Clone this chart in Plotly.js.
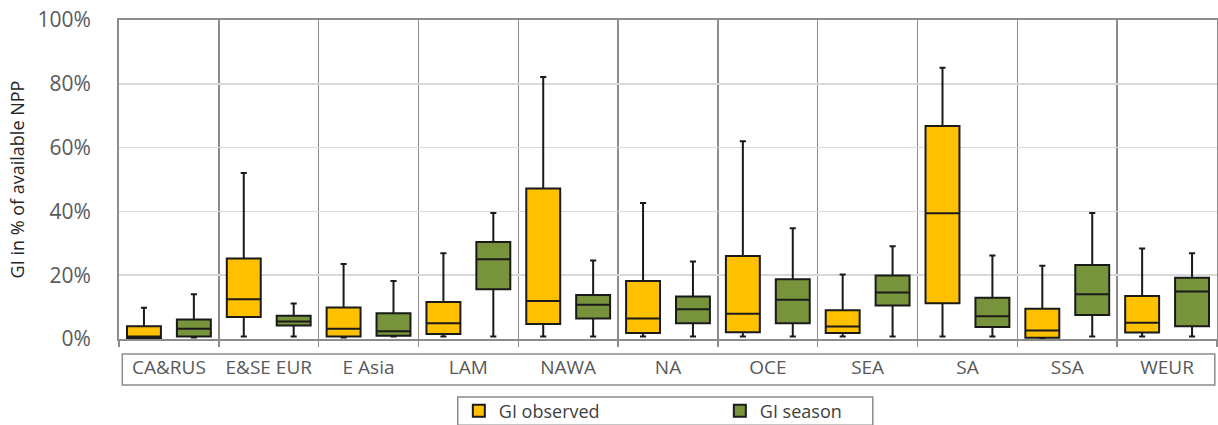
<!DOCTYPE html>
<html>
<head>
<meta charset="utf-8">
<script src="https://cdn.plot.ly/plotly-3.0.1.min.js"></script>
<style>html,body{margin:0;padding:0;background:#fff;}#chart{width:1218px;height:425px;}</style>
</head>
<body>
<div id="chart"></div>
<script>
const categories = ["CA&RUS", "E&SE EUR", "E Asia", "LAM", "NAWA", "NA", "OCE", "SEA", "SA", "SSA", "WEUR"];

// GI observed (% of available NPP)
const obsMin    = [0.1, 0.8, 0.5, 0.8, 0.8, 0.8, 0.8, 0.8, 0.8, 0.3, 0.8];
const obsQ1     = [0.3, 6.9, 0.8, 1.6, 4.7, 1.9, 2.1, 1.9, 11.2, 0.4, 2.0];
const obsMedian = [0.8, 12.5, 3.2, 4.9, 11.9, 6.4, 7.9, 3.9, 39.4, 2.7, 5.1];
const obsQ3     = [4.0, 25.2, 9.9, 11.6, 47.2, 18.2, 26.0, 9.0, 66.8, 9.5, 13.5];
const obsMax    = [9.8, 52.0, 23.5, 26.9, 82.1, 42.6, 62.0, 20.2, 85.0, 23.0, 28.4];

// GI season (% of available NPP)
const seaMin    = [0.5, 0.8, 0.8, 0.8, 0.8, 0.8, 0.8, 0.8, 0.8, 0.8, 0.8];
const seaQ1     = [0.8, 4.2, 1.0, 15.6, 6.4, 4.9, 4.9, 10.5, 3.8, 7.5, 4.0];
const seaMedian = [3.2, 5.5, 2.4, 25.0, 10.7, 9.3, 12.3, 14.6, 7.1, 14.0, 14.9];
const seaQ3     = [6.1, 7.3, 8.1, 30.4, 13.8, 13.3, 18.7, 19.9, 12.9, 23.2, 19.2];
const seaMax    = [14.0, 11.1, 18.2, 39.5, 24.6, 24.3, 34.7, 29.1, 26.2, 39.5, 26.9];

const yTickVals = [0, 20, 40, 60, 80, 100];
const yTickText = ["0%", "20%", "40%", "60%", "80%", "100%"];

const common = {
  type: "box",
  x: categories,
  boxpoints: false,
  whiskerwidth: 0.18,
  line: {color: "#1a1a1a", width: 2},
  hoverinfo: "skip"
};

const traces = [
  Object.assign({}, common, {
    name: "GI observed",
    q1: obsQ1, median: obsMedian, q3: obsQ3, lowerfence: obsMin, upperfence: obsMax,
    fillcolor: "#FFC000"
  }),
  Object.assign({}, common, {
    name: "GI season",
    q1: seaQ1, median: seaMedian, q3: seaQ3, lowerfence: seaMin, upperfence: seaMax,
    fillcolor: "#77933C"
  })
];

const gray = "#8c8c8c";
const layout = {
  width: 1218, height: 425,
  margin: {l: 119, r: 1, t: 20, b: 86, autoexpand: false},
  paper_bgcolor: "#fff", plot_bgcolor: "#fff",
  boxmode: "group", boxgap: 0, boxgroupgap: 0.32,
  font: {family: "Open Sans, sans-serif", color: "#595959"},
  showlegend: true,
  legend: {
    orientation: "h", x: 0.3095, xanchor: "left", y: -0.168, yanchor: "top",
    borderwidth: 0, bgcolor: "rgba(0,0,0,0)",
    entrywidth: 216, entrywidthmode: "pixels",
    font: {size: 18, color: "#404040"}
  },
  xaxis: {
    type: "category",
    tickson: "boundaries",
    showgrid: true, gridcolor: gray, gridwidth: 1.5,
    showline: true, linecolor: gray, linewidth: 2, mirror: true,
    ticks: "outside", ticklen: 6, tickcolor: gray, tickwidth: 1.5,
    ticklabelstandoff: 10,
    tickfont: {size: 19, color: "#595959"},
    fixedrange: true
  },
  yaxis: {
    range: [0, 100],
    tickvals: yTickVals, ticktext: yTickText,
    showgrid: true, gridcolor: "#d9d9d9", gridwidth: 1.5,
    zeroline: false,
    showline: true, linecolor: gray, linewidth: 2, mirror: true,
    ticks: "", ticklabelstandoff: 22,
    tickfont: {size: 21, color: "#595959"},
    title: {text: "GI in % of available NPP", font: {size: 18, color: "#262626"}, standoff: 8},
    fixedrange: true
  },
  shapes: [{
    type: "rect", xref: "paper", yref: "paper",
    x0: 0.003, x1: 0.998, y0: -0.144, y1: -0.047,
    line: {color: gray, width: 1.5}, fillcolor: "rgba(0,0,0,0)"
  }, {
    type: "rect", xref: "paper", yref: "paper",
    x0: 0.3085, x1: 0.6865, y0: -0.27, y1: -0.182,
    line: {color: gray, width: 1.5}, fillcolor: "rgba(0,0,0,0)"
  }]
};

Plotly.newPlot("chart", traces, layout, {displayModeBar: false, staticPlot: true});
</script>
</body>
</html>
